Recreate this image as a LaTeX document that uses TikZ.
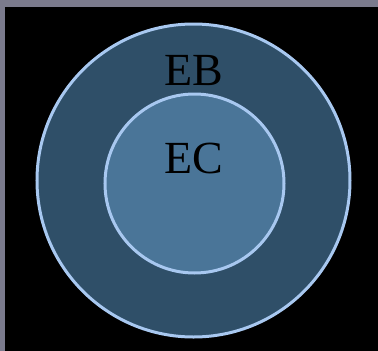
\documentclass[tikz,border=0pt]{standalone}
\usepackage{fontspec}
\setmainfont{Liberation Serif}
\definecolor{frame}{HTML}{7B7B8D}
\definecolor{outerfill}{HTML}{2F4F68}
\definecolor{innerfill}{HTML}{4A7598}
\definecolor{ringline}{HTML}{A8C8F0}
\tikzset{
  ring/.style={circle, draw=ringline, line width=3bp, inner sep=0pt},
  lbl/.style={font=\fontsize{46bp}{50bp}\selectfont, text=black, inner sep=0pt, anchor=base}
}
\begin{document}
\begin{tikzpicture}[x=1bp,y=-1bp]
\useasboundingbox (0,0) rectangle (378,351);
\fill[frame] (0,0) rectangle (378,351);
\fill[black] (5,7) rectangle (378,351);
\node[ring, fill=outerfill, minimum size=313bp] (eb) at (193.5,180.5) {};
\node[ring, fill=innerfill, minimum size=179bp] (ec) at (194.5,183.5) {};
\node[lbl] (ebl) at (193.5,85) {EB};
\node[lbl] (ecl) at (194,173) {EC};
\end{tikzpicture}
\end{document}
